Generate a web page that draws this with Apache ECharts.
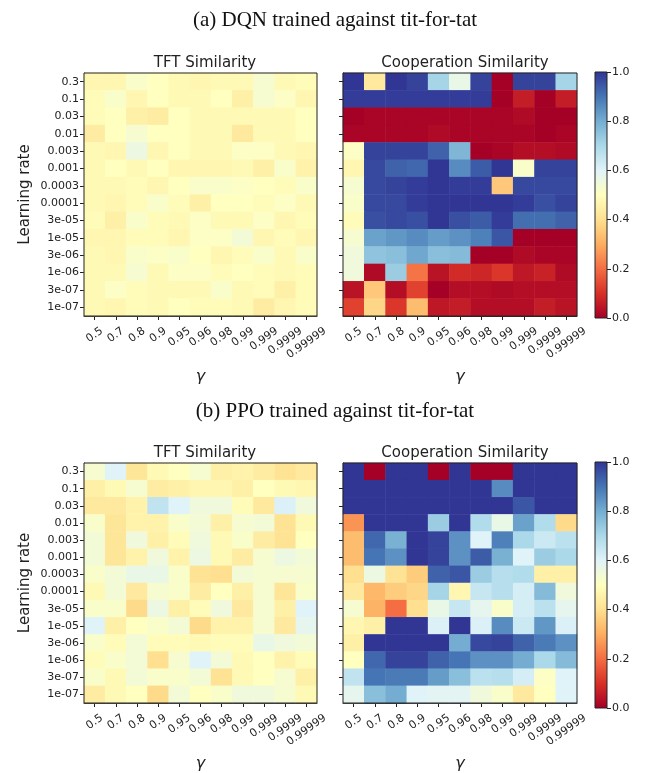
<!DOCTYPE html>
<html>
<head>
<meta charset="utf-8">
<script src="https://cdn.jsdelivr.net/npm/echarts@6/dist/echarts.min.js"></script>
<style>
  html, body { margin: 0; padding: 0; background: #fff; }
  #chart { width: 659px; height: 773px; }
</style>
</head>
<body>
<div id="chart"></div>
<script>
// axis categories
var gammas = ['0.5', '0.7', '0.8', '0.9', '0.95', '0.96', '0.98', '0.99', '0.999', '0.9999', '0.99999'];
var rates = ['0.3', '0.1', '0.03', '0.01', '0.003', '0.001', '0.0003', '0.0001', '3e-05', '1e-05', '3e-06', '1e-06', '3e-07', '1e-07'];
var cbarTicks = [0, 0.2, 0.4, 0.6, 0.8, 1.0];

// rows go top (0.3) to bottom (1e-07), columns follow gammas
var dqnTft = [
    [0.47, 0.47, 0.52, 0.50, 0.48, 0.47, 0.48, 0.48, 0.53, 0.48, 0.49],
    [0.49, 0.52, 0.47, 0.50, 0.48, 0.48, 0.50, 0.45, 0.53, 0.51, 0.47],
    [0.49, 0.50, 0.45, 0.44, 0.50, 0.48, 0.48, 0.48, 0.48, 0.48, 0.50],
    [0.44, 0.50, 0.53, 0.50, 0.50, 0.48, 0.48, 0.43, 0.48, 0.48, 0.50],
    [0.48, 0.47, 0.56, 0.47, 0.50, 0.48, 0.48, 0.51, 0.51, 0.48, 0.47],
    [0.48, 0.50, 0.48, 0.50, 0.47, 0.47, 0.47, 0.48, 0.45, 0.52, 0.46],
    [0.48, 0.48, 0.49, 0.47, 0.50, 0.52, 0.52, 0.51, 0.50, 0.49, 0.52],
    [0.48, 0.47, 0.49, 0.52, 0.49, 0.45, 0.50, 0.50, 0.49, 0.51, 0.48],
    [0.49, 0.45, 0.52, 0.49, 0.48, 0.51, 0.48, 0.48, 0.51, 0.47, 0.49],
    [0.47, 0.47, 0.49, 0.49, 0.47, 0.51, 0.51, 0.54, 0.47, 0.49, 0.47],
    [0.48, 0.47, 0.52, 0.51, 0.52, 0.50, 0.47, 0.49, 0.52, 0.48, 0.52],
    [0.48, 0.48, 0.53, 0.48, 0.51, 0.51, 0.49, 0.50, 0.49, 0.48, 0.49],
    [0.48, 0.51, 0.49, 0.48, 0.48, 0.48, 0.52, 0.48, 0.49, 0.45, 0.49],
    [0.48, 0.47, 0.49, 0.48, 0.50, 0.49, 0.49, 0.48, 0.44, 0.47, 0.49]
];
var dqnCoop = [
    [1.00, 0.43, 1.00, 0.98, 0.71, 0.57, 0.98, 0.00, 0.98, 0.98, 0.71],
    [0.99, 0.99, 0.99, 0.99, 0.99, 0.99, 0.99, 0.00, 0.06, 0.00, 0.06],
    [0.00, 0.01, 0.01, 0.01, 0.01, 0.01, 0.01, 0.01, 0.02, 0.00, 0.00],
    [0.01, 0.01, 0.01, 0.01, 0.02, 0.01, 0.01, 0.01, 0.01, 0.00, 0.01],
    [0.51, 0.98, 0.98, 0.98, 0.93, 0.78, 0.00, 0.01, 0.03, 0.03, 0.02],
    [0.47, 0.97, 0.93, 0.92, 1.00, 0.86, 0.94, 1.00, 0.52, 0.98, 0.98],
    [0.53, 0.97, 0.98, 0.99, 1.00, 0.99, 0.99, 0.35, 0.97, 0.97, 0.97],
    [0.52, 0.97, 0.97, 0.99, 1.00, 1.00, 1.00, 1.00, 0.99, 0.96, 0.98],
    [0.49, 0.96, 0.97, 0.96, 1.00, 0.96, 0.94, 0.99, 0.91, 0.91, 0.93],
    [0.53, 0.82, 0.84, 0.86, 0.83, 0.85, 0.88, 0.95, 0.00, 0.00, 0.00],
    [0.55, 0.75, 0.76, 0.81, 0.76, 0.77, 0.00, 0.00, 0.02, 0.01, 0.01],
    [0.55, 0.02, 0.73, 0.21, 0.04, 0.09, 0.08, 0.11, 0.05, 0.07, 0.02],
    [0.04, 0.35, 0.03, 0.13, 0.00, 0.03, 0.03, 0.02, 0.03, 0.03, 0.03],
    [0.13, 0.38, 0.11, 0.33, 0.05, 0.06, 0.03, 0.03, 0.03, 0.06, 0.04]
];
var ppoTft = [
    [0.53, 0.60, 0.42, 0.48, 0.50, 0.53, 0.45, 0.46, 0.44, 0.41, 0.43],
    [0.45, 0.48, 0.53, 0.44, 0.45, 0.47, 0.47, 0.45, 0.50, 0.48, 0.47],
    [0.43, 0.43, 0.46, 0.66, 0.60, 0.55, 0.55, 0.49, 0.43, 0.61, 0.55],
    [0.52, 0.42, 0.46, 0.46, 0.52, 0.54, 0.45, 0.53, 0.54, 0.41, 0.48],
    [0.54, 0.42, 0.55, 0.45, 0.49, 0.55, 0.48, 0.52, 0.44, 0.41, 0.50],
    [0.54, 0.42, 0.46, 0.55, 0.46, 0.56, 0.48, 0.44, 0.53, 0.56, 0.54],
    [0.52, 0.54, 0.57, 0.57, 0.52, 0.41, 0.40, 0.54, 0.53, 0.53, 0.53],
    [0.48, 0.54, 0.43, 0.53, 0.52, 0.44, 0.50, 0.45, 0.53, 0.42, 0.52],
    [0.52, 0.52, 0.39, 0.56, 0.45, 0.49, 0.55, 0.43, 0.53, 0.45, 0.60],
    [0.60, 0.45, 0.50, 0.52, 0.54, 0.39, 0.46, 0.46, 0.53, 0.43, 0.58],
    [0.52, 0.49, 0.54, 0.49, 0.49, 0.48, 0.49, 0.49, 0.57, 0.55, 0.54],
    [0.49, 0.52, 0.54, 0.40, 0.53, 0.60, 0.54, 0.48, 0.50, 0.46, 0.49],
    [0.52, 0.48, 0.54, 0.52, 0.52, 0.54, 0.41, 0.48, 0.50, 0.53, 0.45],
    [0.44, 0.48, 0.50, 0.39, 0.54, 0.50, 0.52, 0.55, 0.55, 0.53, 0.48]
];
var ppoCoop = [
    [1.00, 0.00, 1.00, 1.00, 0.00, 1.00, 0.00, 0.00, 1.00, 1.00, 1.00],
    [1.00, 1.00, 1.00, 1.00, 1.00, 1.00, 1.00, 0.86, 1.00, 1.00, 1.00],
    [1.00, 1.00, 1.00, 1.00, 1.00, 1.00, 1.00, 1.00, 0.95, 1.00, 1.00],
    [0.26, 1.00, 1.00, 1.00, 0.73, 1.00, 0.69, 0.57, 0.82, 0.69, 0.39],
    [0.33, 0.92, 0.79, 1.00, 0.98, 0.85, 0.60, 0.88, 0.70, 0.64, 0.67],
    [0.33, 0.90, 0.85, 1.00, 0.98, 0.85, 0.94, 0.79, 0.60, 0.73, 0.70],
    [0.40, 0.56, 0.41, 0.36, 0.93, 0.95, 0.73, 0.68, 0.69, 0.45, 0.45],
    [0.43, 0.32, 0.36, 0.38, 0.71, 0.47, 0.65, 0.68, 0.62, 0.77, 0.55],
    [0.53, 0.31, 0.20, 0.40, 0.57, 0.65, 0.58, 0.52, 0.62, 0.67, 0.58],
    [0.47, 0.45, 1.00, 1.00, 0.61, 1.00, 0.61, 0.86, 0.64, 0.84, 0.61],
    [0.45, 1.00, 1.00, 1.00, 1.00, 0.80, 0.97, 0.98, 0.93, 0.89, 0.85],
    [0.50, 0.92, 0.98, 0.98, 0.93, 0.90, 0.85, 0.85, 0.80, 0.70, 0.77],
    [0.66, 0.90, 0.89, 0.89, 0.83, 0.76, 0.67, 0.68, 0.62, 0.51, 0.60],
    [0.58, 0.76, 0.80, 0.60, 0.59, 0.59, 0.55, 0.52, 0.43, 0.50, 0.60]
];

// RdYlBu, low -> high
var rdylbu = ['#a50026', '#d73027', '#f46d43', '#fdae61', '#fee090', '#ffffbf',
              '#e0f3f8', '#abd9e9', '#74add1', '#4575b4', '#313695'];

function cells(m) {
    var out = [];
    for (var r = 0; r < m.length; r++) {
        for (var c = 0; c < m[r].length; c++) {
            out.push([c, r, m[r][c]]);
        }
    }
    return out;
}

var sans = 'DejaVu Sans';
var labelFont = { fontFamily: sans, fontSize: 11, color: '#222' };

// rotated gamma labels, centred under the tick like matplotlib does it:
// pad each label so its bounding box hangs from a fixed top line
var ROT = 35 * Math.PI / 180;
var ctx = document.createElement('canvas').getContext('2d');
ctx.font = '11px "DejaVu Sans"';
var gammaRich = {};
gammas.forEach(function(g, i) {
    var w = ctx.measureText(g).width;
    gammaRich['g' + i] = {
        fontFamily: sans, fontSize: 11, color: '#222',
        padding: [w * Math.sin(ROT) * Math.cos(ROT), w * Math.sin(ROT) * Math.sin(ROT), 0, 0]
    };
});

// heatmap panels: [left, top, width, height]
var panels = [
    { box: [84, 73, 233, 243], data: dqnTft, ylab: true },
    { box: [343, 73, 234, 243], data: dqnCoop, ylab: false },
    { box: [84, 463, 233, 242], data: ppoTft, ylab: true },
    { box: [343, 463, 234, 242], data: ppoCoop, ylab: false }
];
var cbars = [[595, 72, 12, 246], [595, 462, 12, 246]];

var grid = [], xAxis = [], yAxis = [], series = [];

panels.forEach(function(p, i) {
    grid.push({ left: p.box[0], top: p.box[1], width: p.box[2], height: p.box[3],
                show: true, borderColor: '#222', borderWidth: 1, backgroundColor: 'transparent', z: 5 });
    xAxis.push({
        type: 'category', gridIndex: i, data: gammas,
        axisLine: { show: true, lineStyle: { color: '#222', width: 1 } },
        axisTick: { show: true, alignWithLabel: true, length: 4, lineStyle: { color: '#222' } },
        axisLabel: {
            rotate: 35, margin: 14, interval: 0, align: 'center', verticalAlign: 'middle',
            formatter: function(v, idx) { return '{g' + idx + '|' + v + '}'; },
            rich: gammaRich
        },
        splitLine: { show: false },
        name: 'γ', nameLocation: 'middle', nameGap: 53,
        nameTextStyle: { fontFamily: sans, fontSize: 16, fontStyle: 'italic', color: '#222' }
    });
    yAxis.push({
        type: 'category', gridIndex: i, data: rates, inverse: true,
        axisLine: { show: true, lineStyle: { color: '#222', width: 1 } },
        axisTick: { show: true, alignWithLabel: true, length: 4, lineStyle: { color: '#222' } },
        axisLabel: Object.assign({ show: p.ylab, margin: 5, interval: 0 }, labelFont),
        splitLine: { show: false },
        name: p.ylab ? 'Learning rate' : '', nameLocation: 'middle', nameGap: 51,
        nameTextStyle: { fontFamily: sans, fontSize: 15, color: '#222' }
    });
    series.push({
        type: 'heatmap', xAxisIndex: i, yAxisIndex: i, data: cells(p.data),
        itemStyle: { borderWidth: 0 },
        emphasis: { disabled: true }
    });
});

// colour bars
cbars.forEach(function(b, k) {
    var gi = grid.length;
    grid.push({ left: b[0], top: b[1], width: b[2], height: b[3],
                show: true, borderColor: '#222', borderWidth: 1, backgroundColor: 'transparent', z: 5 });
    xAxis.push({ type: 'category', gridIndex: gi, data: [''], show: false });
    yAxis.push({
        type: 'value', gridIndex: gi, position: 'right', min: 0, max: 1, interval: 0.2,
        axisLine: { show: false },
        axisTick: { show: true, length: 4, lineStyle: { color: '#222' } },
        axisLabel: Object.assign({ margin: 5, formatter: function(v) { return v.toFixed(1); } }, labelFont),
        splitLine: { show: false }
    });
    series.push({
        type: 'bar', xAxisIndex: gi, yAxisIndex: gi, data: [1], barWidth: '100%',
        silent: true,
        itemStyle: {
            color: new echarts.graphic.LinearGradient(0, 1, 0, 0, rdylbu.map(function(c, j) {
                return { offset: j / (rdylbu.length - 1), color: c };
            }))
        }
    });
});

var subTitle = { fontFamily: sans, fontSize: 15, fontWeight: 'normal', color: '#222' };
var mainTitle = { fontFamily: 'Liberation Serif', fontSize: 21, fontWeight: 'normal', color: '#111' };

var option = {
    backgroundColor: '#fff',
    animation: false,
    title: [
        { text: '(a) DQN trained against tit-for-tat', left: 330, top: 5, textAlign: 'center', textStyle: mainTitle },
        { text: 'TFT Similarity', left: 200, top: 51, textAlign: 'center', textStyle: subTitle },
        { text: 'Cooperation Similarity', left: 460, top: 51, textAlign: 'center', textStyle: subTitle },
        { text: '(b) PPO trained against tit-for-tat', left: 330, top: 396, textAlign: 'center', textStyle: mainTitle },
        { text: 'TFT Similarity', left: 200, top: 441, textAlign: 'center', textStyle: subTitle },
        { text: 'Cooperation Similarity', left: 460, top: 441, textAlign: 'center', textStyle: subTitle }
    ],
    visualMap: {
        type: 'continuous', show: false, min: 0, max: 1,
        seriesIndex: [0, 1, 2, 3],
        inRange: { color: rdylbu }
    },
    grid: grid,
    xAxis: xAxis,
    yAxis: yAxis,
    series: series
};

var chart = echarts.init(document.getElementById('chart'));
chart.setOption(option);
</script>
</body>
</html>
